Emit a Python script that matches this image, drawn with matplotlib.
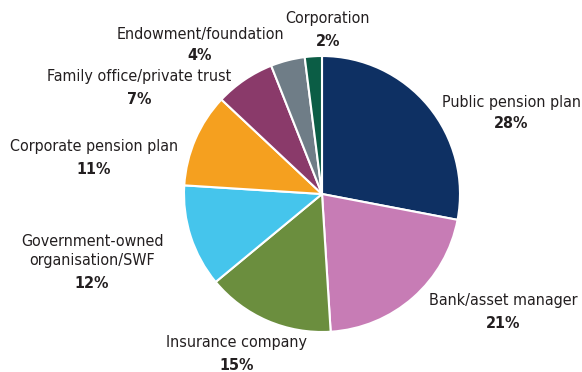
import matplotlib
matplotlib.use("Agg")
import matplotlib.pyplot as plt

# investor type shares (%), clockwise from 12 o'clock
labels = ["Public pension plan", "Bank/asset manager", "Insurance company",
          "Government-owned\norganisation/SWF", "Corporate pension plan",
          "Family office/private trust", "Endowment/foundation", "Corporation"]
shares = [28, 21, 15, 12, 11, 7, 4, 2]
colors = ["#0e3063", "#c77cb5", "#6b8e3e", "#45c5ec", "#f5a01f",
          "#8a3a6a", "#6f7d87", "#0b5d45"]

# label anchor positions in pixels (x, y from top)
label_pos = [(511, 102), (503, 301), (237, 343), (92, 251),
             (94, 147), (139, 77), (200, 34), (328, 19)]

plt.rcParams['font.family'] = ['DejaVu Sans']
plt.rcParams['font.stretch'] = 'condensed'
W, H = 582, 372
fig = plt.figure(figsize=(W / 100, H / 100), dpi=100)
ax = fig.add_axes([0, 0, 1, 1])

ax.pie(shares, colors=colors, startangle=90, counterclock=False,
       center=(322, H - 194), radius=138, frame=True,
       wedgeprops=dict(edgecolor="white", linewidth=1.5))
ax.set_xlim(0, W)
ax.set_ylim(0, H)
ax.set_aspect("equal")
ax.axis("off")

txt = "#231f20"
for lab, val, (x, y) in zip(labels, shares, label_pos):
    nlines = lab.count("\n") + 1
    ax.text(x, H - y, lab, ha="center", va="center", fontsize=11.5,
            color=txt, linespacing=1.4, fontstretch="condensed")
    ax.text(x, H - y - 22 - 11 * (nlines - 1), f"{val}%", ha="center",
            va="center", fontsize=11.5, fontweight="bold", color=txt,
            fontstretch="condensed")

fig.savefig("out.png", dpi=100)
